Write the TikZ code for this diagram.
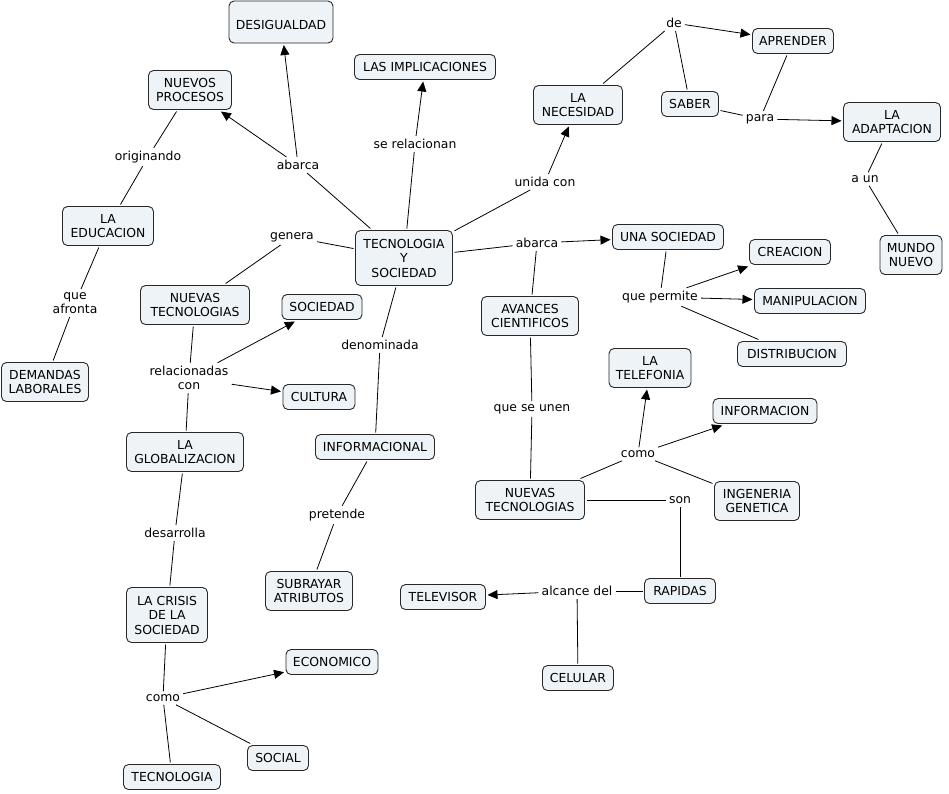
\documentclass[tikz,border=0pt]{standalone}
\usepackage{fontspec}
\setmainfont{DejaVu Sans}
\usetikzlibrary{arrows.meta}
\definecolor{cfill}{RGB}{237,243,246}
\definecolor{cline}{RGB}{40,40,40}
\newcommand\cnode[6]{\node[concept,minimum width=#4,minimum height=#5] (#1) at (#2,#3) {#6};}
\newcommand\lnode[4]{\node[lnk] (#1) at (#2,#3) {#4};}
\begin{document}
\begin{tikzpicture}[x=1pt,y=-1pt,
 font=\fontsize{12.4}{14.5}\selectfont,
 concept/.style={draw=cline, fill=cfill, rounded corners=5pt, line width=0.9pt, align=center, inner sep=1pt, outer sep=2pt},
 lnk/.style={inner sep=3pt, align=center},
 con/.style={draw=black, line width=0.8pt},
 arr/.style={con, -{Triangle[length=10pt,width=9pt]}}
]
\useasboundingbox[fill=white] (0,0) rectangle (949,793);
% concepts
\cnode{des}{281}{22}{104}{42}{\mbox{}\\DESIGUALDAD}
\cnode{np}{190}{90}{83}{39}{NUEVOS\\PROCESOS}
\cnode{imp}{425}{67}{141}{25}{LAS IMPLICACIONES}
\cnode{nec}{578}{105}{89}{39}{LA\\NECESIDAD}
\cnode{apr}{793}{41}{81}{25}{APRENDER}
\cnode{sab}{690}{104}{57}{25}{SABER}
\cnode{ada}{892}{122}{97}{39}{LA\\ADAPTACION}
\cnode{mun}{911}{255}{62}{39}{MUNDO\\NUEVO}
\cnode{uso}{668}{237}{111}{25}{UNA SOCIEDAD}
\cnode{cre}{790}{252}{81}{25}{CREACION}
\cnode{man}{810}{301}{111}{25}{MANIPULACION}
\cnode{dis}{792}{354}{109}{25}{DISTRIBUCION}
\cnode{tys}{404}{258}{97}{55}{TECNOLOGIA\\Y\\SOCIEDAD}
\cnode{ava}{530}{316}{97}{39}{AVANCES\\CIENTIFICOS}
\cnode{tel}{650}{368}{82}{39}{LA\\TELEFONIA}
\cnode{inf}{765}{411}{104}{25}{INFORMACION}
\cnode{ing}{757}{501}{85}{39}{INGENERIA\\GENETICA}
\cnode{ntr}{530}{500}{109}{39}{NUEVAS\\TECNOLOGIAS}
\cnode{rap}{680}{591}{71}{25}{RAPIDAS}
\cnode{tv}{443}{597}{85}{25}{TELEVISOR}
\cnode{cel}{578}{678}{71}{25}{CELULAR}
\cnode{edu}{108}{226}{91}{39}{LA\\EDUCACION}
\cnode{ntl}{195}{305}{109}{39}{NUEVAS\\TECNOLOGIAS}
\cnode{soc}{322}{307}{80}{25}{SOCIEDAD}
\cnode{cul}{319}{397}{72}{25}{CULTURA}
\cnode{dem}{45}{382}{87}{39}{DEMANDAS\\LABORALES}
\cnode{glo}{185}{452}{117}{39}{LA\\GLOBALIZACION}
\cnode{infl}{375}{447}{119}{25}{INFORMACIONAL}
\cnode{sub}{309}{591}{87}{39}{SUBRAYAR\\ATRIBUTOS}
\cnode{cri}{167}{615}{81}{55}{LA CRISIS\\DE LA\\SOCIEDAD}
\cnode{eco}{332}{662}{92}{25}{ECONOMICO}
\cnode{soci}{278}{758}{61}{25}{SOCIAL}
\cnode{tec}{172}{777}{97}{25}{TECNOLOGIA}
% linking phrases
\lnode{abl}{298}{165}{abarca}
\lnode{ori}{148}{157}{originando}
\lnode{gen}{292}{237}{genera}
\lnode{ser}{415}{144}{se relacionan}
\lnode{uni}{545}{182}{unida con}
\lnode{de}{674}{23}{de}
\lnode{para}{760}{119}{para}
\lnode{aun}{865}{179}{a un}
\lnode{abr}{537}{243}{abarca}
\lnode{qpe}{660}{297}{que permite}
\lnode{qaf}{75}{303}{que\\afronta}
\lnode{rel}{189}{378}{relacionadas\\con}
\lnode{den}{380}{345}{denominada}
\lnode{qsu}{532}{409}{que se unen}
\lnode{comr}{638}{454}{como}
\lnode{son}{680}{500}{son}
\lnode{alc}{577}{591}{alcance del}
\lnode{desa}{175}{533}{desarrolla}
\lnode{pre}{337}{515}{pretende}
\lnode{coml}{163}{698}{como}
% connectors
\draw[con] (tys) -- (abl);
\draw[arr] (abl) -- (np);
\draw[arr] (abl) -- (des);
\draw[con] (np) -- (ori);
\draw[con] (ori) -- (edu);
\draw[con] (edu) -- (qaf);
\draw[con] (qaf) -- (dem);
\draw[con] (tys) -- (gen);
\draw[con] (gen) -- (ntl);
\draw[con] (tys) -- (ser);
\draw[arr] (ser) -- (imp);
\draw[con] (tys) -- (uni);
\draw[arr] (uni) -- (nec);
\draw[con] (nec) -- (de);
\draw[arr] (de) -- (apr);
\draw[con] (de) -- (sab);
\draw[con] (sab) -- (para);
\draw[con] (apr) -- (para);
\draw[arr] (para) -- (ada);
\draw[con] (ada) -- (aun);
\draw[con] (aun) -- (mun);
\draw[con] (tys) -- (abr);
\draw[arr] (abr) -- (uso);
\draw[con] (abr) -- (ava);
\draw[con] (uso) -- (qpe);
\draw[arr] (qpe) -- (cre);
\draw[arr] (qpe) -- (man);
\draw[con] (qpe) -- (dis);
\draw[con] (ava) -- (qsu);
\draw[con] (qsu) -- (ntr);
\draw[con] (ntr) -- (comr);
\draw[arr] (comr) -- (tel);
\draw[arr] (comr) -- (inf);
\draw[con] (comr) -- (ing);
\draw[con] (ntr) -- (son);
\draw[con] (son) -- (rap);
\draw[con] (rap) -- (alc);
\draw[arr] (alc) -- (tv);
\draw[con] (alc) -- (cel);
\draw[con] (tys) -- (den);
\draw[con] (den) -- (infl);
\draw[con] (infl) -- (pre);
\draw[con] (pre) -- (sub);
\draw[con] (ntl) -- (rel);
\draw[arr] (rel) -- (soc);
\draw[arr] (rel) -- (cul);
\draw[con] (rel) -- (glo);
\draw[con] (glo) -- (desa);
\draw[con] (desa) -- (cri);
\draw[con] (cri) -- (coml);
\draw[arr] (coml) -- (eco);
\draw[con] (coml) -- (soci);
\draw[con] (coml) -- (tec);
\end{tikzpicture}
\end{document}
